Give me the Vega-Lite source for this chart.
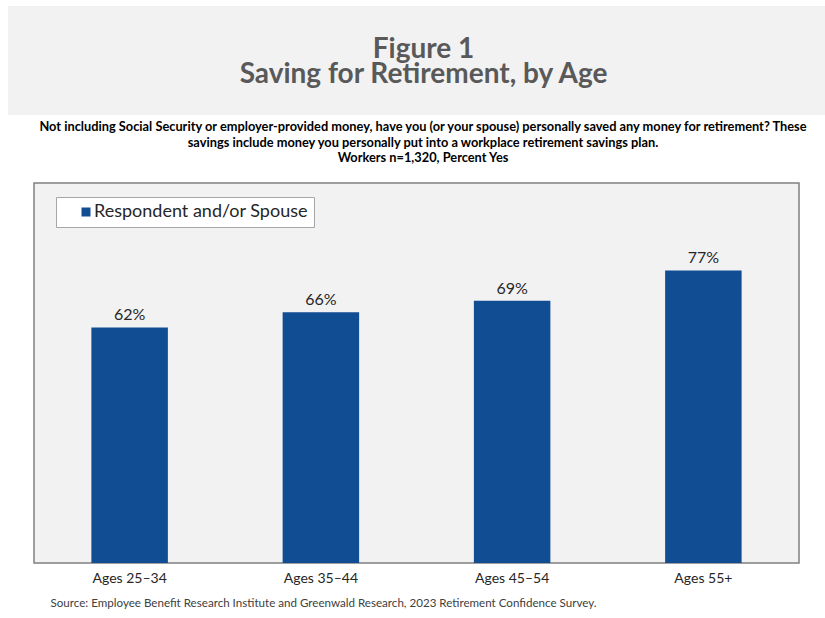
{
  "$schema": "https://vega.github.io/schema/vega-lite/v6.json",
  "padding": {"left": 8, "top": 6, "right": 0, "bottom": 0},
  "background": "white",
  "bounds": "flush",
  "center": true,
  "spacing": 68,
  "config": {"font": "Lato"},
  "resolve": {"scale": {"color": "independent"}, "legend": {"color": "independent"}},
  "vconcat": [
    {
      "width": 817,
      "height": 109,
      "view": {"fill": "#F2F2F2", "stroke": null},
      "data": {"values": [
        {"line": 1, "text": "Figure 1"},
        {"line": 2, "text": "Saving for Retirement, by Age"}
      ]},
      "mark": {"type": "text", "fontSize": 28, "fontWeight": "bold", "color": "#595959", "baseline": "alphabetic", "dx": 7},
      "encoding": {
        "y": {"field": "line", "type": "ordinal", "scale": {"range": [52, 77], "padding": 0}, "axis": null},
        "text": {"field": "text"}
      }
    },
    {
      "width": 765,
      "height": 380,
      "view": {"fill": "#F2F2F2", "stroke": "#808080", "strokeWidth": 1.5},
      "title": {
        "text": [
          "Not including Social Security or employer-provided money, have you (or your spouse) personally saved any money for retirement?  These",
          "savings include money you personally put into a workplace retirement savings plan.",
          "Workers n=1,320, Percent Yes"
        ],
        "fontSize": 12.8,
        "fontWeight": "bold",
        "color": "black",
        "anchor": "middle",
        "dx": 6.5,
        "offset": 18,
        "lineHeight": 15.5
      },
      "data": {"values": [
        {"age": "Ages 25–34", "pct": 0.62, "series": "Respondent and/or Spouse"},
        {"age": "Ages 35–44", "pct": 0.66, "series": "Respondent and/or Spouse"},
        {"age": "Ages 45–54", "pct": 0.69, "series": "Respondent and/or Spouse"},
        {"age": "Ages 55+", "pct": 0.77, "series": "Respondent and/or Spouse"}
      ]},
      "encoding": {
        "x": {
          "field": "age", "type": "nominal", "sort": null,
          "scale": {"paddingInner": 0.6, "paddingOuter": 0.3},
          "axis": {
            "labelAngle": 0, "ticks": false, "domain": false,
            "labelFontSize": 14, "labelColor": "#262626", "labelPadding": 8,
            "title": "Source:  Employee Benefit Research Institute and Greenwald Research, 2023 Retirement Confidence Survey.",
            "titleFontSize": 11.6, "titleFontWeight": "normal", "titleColor": "#404040",
            "titleAnchor": "start", "titleAlign": "left", "titleX": 16, "titlePadding": 12
          }
        },
        "y": {"field": "pct", "type": "quantitative", "scale": {"domain": [0, 1]}, "axis": null}
      },
      "layer": [
        {
          "mark": {"type": "bar"},
          "encoding": {
            "color": {
              "field": "series", "type": "nominal",
              "scale": {"range": ["#104D92"]},
              "legend": {
                "orient": "none", "legendX": 22, "legendY": 14, "title": null,
                "fillColor": "white", "strokeColor": "#A6A6A6", "padding": 6,
                "symbolType": "square", "symbolSize": 81, "symbolStrokeWidth": 0,
                "symbolOffset": 15, "labelOffset": -1, "labelLimit": 400,
                "labelExpr": "datum.label + '\u2003\u2003\u2002'",
                "labelFontSize": 18, "labelColor": "#262626", "labelFont": "Lato"
              }
            }
          }
        },
        {
          "mark": {"type": "text", "baseline": "alphabetic", "dy": -7, "fontSize": 16, "color": "#262626"},
          "encoding": {"text": {"field": "pct", "format": ".0%"}}
        }
      ]
    }
  ]
}
